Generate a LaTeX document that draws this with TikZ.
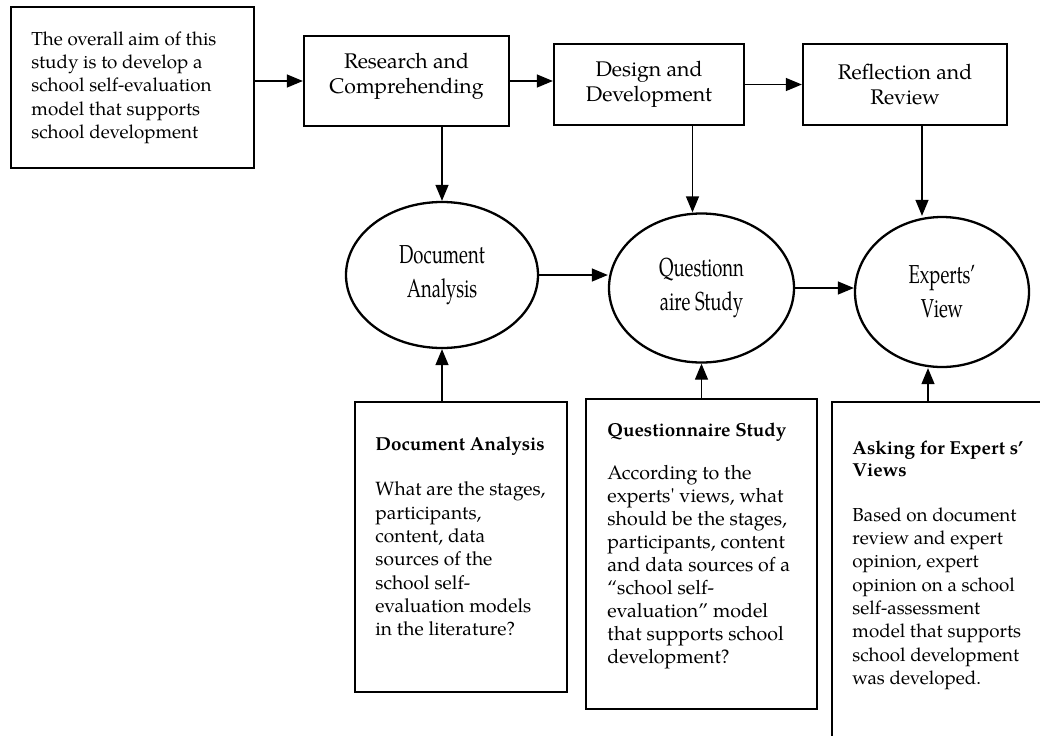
\documentclass[tikz,border=0pt]{standalone}
\usepackage{fontspec}
\setmainfont{TeX Gyre Pagella}
\newfontfamily\narrowfont[FakeStretch=0.71]{TeX Gyre Pagella}
\usetikzlibrary{shapes.geometric,arrows.meta}

\tikzset{
  frame/.style={draw=black, line width=1.15pt, rectangle, inner sep=0pt},
  stage/.style={frame, align=center, font=\fontsize{10.6}{12.5}\selectfont},
  method/.style={draw=black, line width=1.15pt, ellipse, inner sep=0pt, align=center,
    font=\narrowfont\fontsize{13}{17}\selectfont},
  boxtext/.style={inner sep=0pt, align=left, anchor=north west,
    font=\fontsize{9.4}{11.67}\selectfont},
  link/.style={line width=0.65pt, -{Triangle[length=8pt,width=6.5pt]}},
}

\begin{document}
\begin{tikzpicture}[x=0.5pt, y=-0.5pt]
  \path[use as bounding box, clip] (0,0) rectangle (1040,735);

  % Aim and the three stages
  \node[frame, minimum width=121.5pt, minimum height=80.5pt] (aim) at (132.5,87.5) {};
	\node[boxtext] (aimtext) at (31,31) {The overall aim of this\\study is to develop a\\school self-evaluation\\model that supports\\school development};

	\node[stage, minimum width=102.5pt, minimum height=45pt] (research) at (406.5,81) {Research and\\Comprehending\\[-5pt]};
	\node[stage, minimum width=95pt, minimum height=40.5pt] (design) at (649,84.5) {Design and\\Development};
	\node[stage, minimum width=102pt, minimum height=40.5pt] (reflection) at (905,84.5) {Reflection and\\Review};

  % Methods
	\node[method, minimum width=96pt, minimum height=73pt] (docell) at (442,275) {Document\\Analysis};
	\node[method, minimum width=92.5pt, minimum height=74.5pt] (questell) at (701.5,288) {Questionn\\aire Study};
	\node[method, minimum width=87pt, minimum height=75pt] (expell) at (942,292) {Experts’\\View};

  % Questions of each method
	\node[frame, minimum width=106pt, minimum height=145pt] (docbox) at (461,547) {};
	\node[frame, minimum width=115.5pt, minimum height=155pt] (questbox) at (701.5,554) {};
	\node[frame, minimum width=114pt, minimum height=179pt] (expbox) at (946,581) {};

	\node[boxtext, font=\fontsize{9.6}{11.67}\selectfont] (doctext) at (375,437) {{\fontsize{9.4}{11.67}\selectfont\textbf{Document Analysis}}\\[10.8pt]What are the stages,\\participants,\\content, data\\sources of the\\school self-\\evaluation models\\in the literature?};
	\node[boxtext, font=\fontsize{9.8}{11.5}\selectfont] (questtext) at (607,423) {{\fontsize{9.4}{11.5}\selectfont\textbf{Questionnaire Study}}\\[10pt]According to the\\experts\textquotesingle\ views, what\\should be the stages,\\participants, content\\and data sources of a\\“school self-\\evaluation” model\\that supports school\\development?};
	\node[boxtext] (exptext) at (852,441) {\textbf{Asking for Expert s’}\\[-1pt]\textbf{Views}\\[10.8pt]Based on document\\review and expert\\opinion, expert\\opinion on a school\\self-assessment\\model that supports\\school development\\was developed.};

  % Connectors
	\draw[link] (aim.east |- research.west) -- (research.west);
	\draw[link] (research.east) -- (research.east -| design.west);
	\draw[link] (design) -- (reflection);

	\coordinate (qtop) at ([xshift=-4.5pt]questell.north);
	\coordinate (etop) at ([xshift=-10pt]expell.north);
	\coordinate (ebot) at ([xshift=-7pt]expell.south);

	\draw[link] (research.south -| docell.north) -- (docell.north);
	\draw[link] (design.south -| qtop) -- (qtop);
	\draw[link] (reflection.south -| etop) -- (etop);

	\draw[link] (docell.east) -- (docell.east -| questell.west);
	\draw[link] (questell.east) -- (questell.east -| expell.west);

	\draw[link] (docbox.north -| docell.south) -- (docell.south);
	\draw[link] (questbox.north) -- (questell.south);
	\draw[link] (expbox.north -| ebot) -- (ebot);

\end{tikzpicture}
\end{document}
